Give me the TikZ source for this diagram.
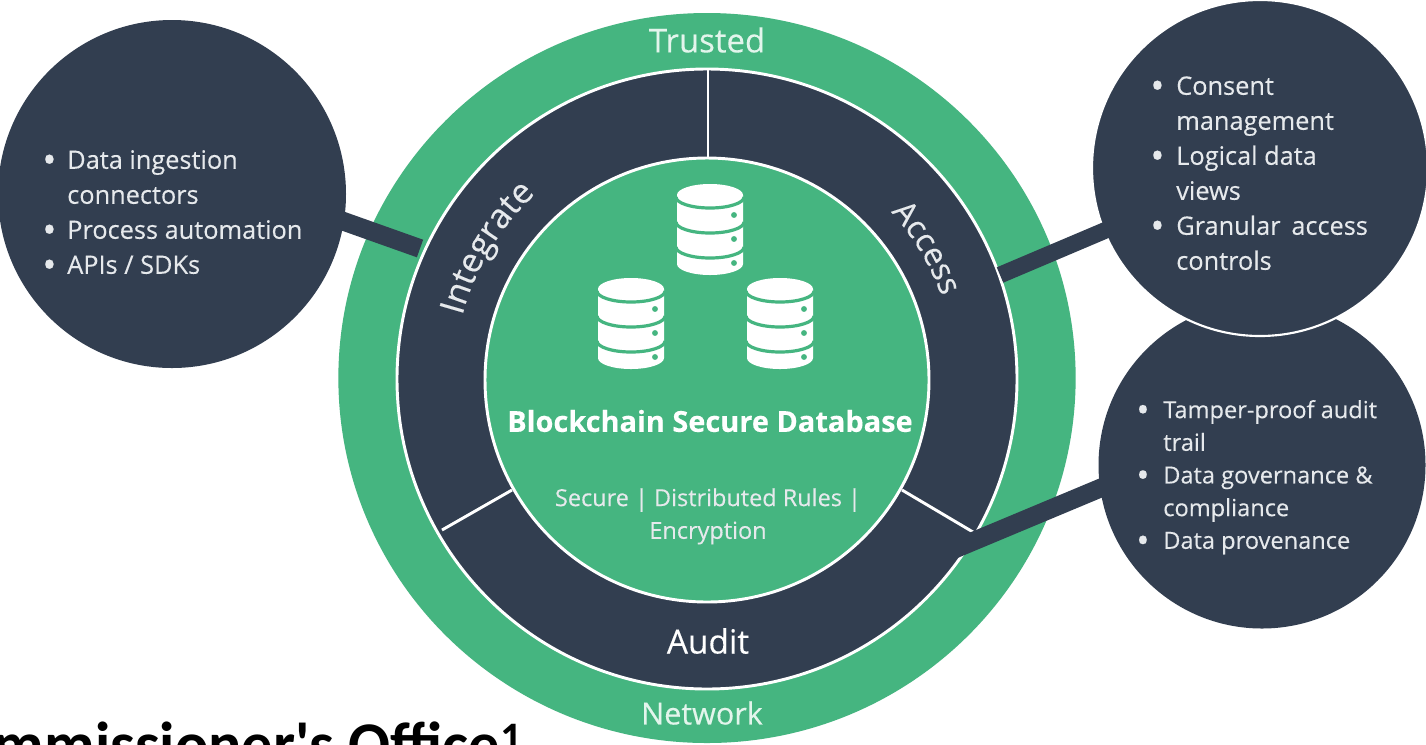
\documentclass[tikz,border=0pt]{standalone}
\usepackage{fontspec}
\setmainfont{Open Sans}[FakeBold=0.25]
\newfontfamily\carl{Carlito}
\usetikzlibrary{decorations.text}
\definecolor{rgreen}{HTML}{45B580}
\definecolor{rdark}{HTML}{323E50}
\definecolor{rtext}{HTML}{E6E9EC}
\definecolor{rmint}{HTML}{E3F5EC}
\newcommand{\bl}{\raisebox{-0.17em}{\scalebox{1.5}{\textbullet}}}
\tikzset{
  x=0.75pt,y=-0.75pt,
  sat/.style={circle,fill=rdark,inner sep=0pt,minimum size=#1*0.75pt},
  bar/.style={rdark,line width=#1pt},
  listA/.style={anchor=north west,inner sep=0pt,text=rtext,font=\fontsize{19}{26.25}\selectfont},
  listB/.style={anchor=north west,inner sep=0pt,text=rtext,font=\fontsize{17.7}{24.5}\selectfont},
  lab/.style={text=rmint,inner sep=0pt,font=\fontsize{#1}{30}\selectfont},
  sublab/.style={text=rtext,inner sep=0pt,font=\fontsize{17.6}{25}\selectfont},
  dbicon/.pic={
    \fill[white] (-33,11) arc[x radius=24.75pt,y radius=8.25pt,start angle=180,end angle=0]
      -- (33,80) arc[x radius=24.75pt,y radius=8.25pt,start angle=0,end angle=-180] -- cycle;
    \foreach \yy in {13,38,63}{
      \draw[rgreen,line width=2.4pt] (-34,\yy) arc[x radius=25.5pt,y radius=8.25pt,start angle=180,end angle=360];
    }
    \foreach \yy in {31,55,79}{ \fill[rgreen] (24,\yy) circle[radius=2.2pt]; }
  }
}
\begin{document}
\begin{tikzpicture}
\path[use as bounding box] (0,0) rectangle (1426,744);
\clip (0,0) rectangle (1426,744);
\fill[white] (0,0) rectangle (1426,744);

% outer ring and inner rings
\node[sat=730,fill=rgreen,xscale=1.01] (outer) at (707,378) {};
\node[sat=620,draw=white,line width=2.2pt] (ring) at (707,379) {};
\node[sat=444,fill=rgreen,draw=white,line width=2.2pt] (core) at (707,380) {};

% ring dividers
\coordinate (d1a) at (708,70);
\coordinate (d1b) at (708,158);
\coordinate (d2a) at (902,490);
\coordinate (d2b) at (973,532);
\coordinate (d3a) at (512,490);
\coordinate (d3b) at (442,530);
\draw[white,line width=2.2pt] (d1a) -- (d1b);
\draw[white,line width=2.2pt] (d2a) -- (d2b);
\draw[white,line width=2.2pt] (d3a) -- (d3b);

% satellites
\node[sat=348] (s1) at (172,194) {};
\node[sat=327] (s3) at (1262,465) {};
\node[sat=336,draw=white,line width=1.6pt] (s2) at (1260,168) {};

% connectors
\coordinate (c1) at (420,248.5);
\coordinate (c1s) at (292,203);
\coordinate (c2) at (1000,275);
\coordinate (c2s) at (1125,222);
\coordinate (c3) at (950,551);
\coordinate (c3s) at (1115,482);
\draw[bar=14] (c1s) -- (c1);
\draw[bar=12.5] (c2s) -- (c2);
\draw[bar=14] (c3s) -- (c3);

% database icons
\pic at (710,184) {dbicon};
\pic at (631,278) {dbicon};
\pic at (780,278) {dbicon};

% labels
\node[lab=24.7] (trusted) at (707,40) {Trusted};
\node[lab=22.9] (network) at (702,713) {Network};
\node[lab=25,text=white] (audit) at (708,641) {Audit};
\node[text=white,inner sep=0pt,font=\bfseries\fontsize{21.7}{26}\selectfont] (title) at (710,421) {Blockchain Secure Database};
\node[sublab] (sub1) at (708,500) {Secure | Distributed Rules |};
\node[sublab] (sub2) at (708,533) {Encryption};

\path[decorate,decoration={text along path,text align=center,
  text={|\color{rtext}\fontsize{25.5}{28}\selectfont|Integrate}}]
  plot[domain=181:117,samples=40] ({707+253*cos(\x)},{380-253*sin(\x)});
\path[decorate,decoration={text along path,text align=center,
  text={|\color{rtext}\fontsize{24}{28}\selectfont|Access}}]
  plot[domain=60:2,samples=40] ({707+249*cos(\x)},{380-249*sin(\x)});

% lists
\node[listA] (l1) at (42,144) {\begin{tabular}{@{}p{18.75pt}@{}l@{}}
\bl & Data ingestion\\ & connectors\\ \bl & Process automation\\ \bl & APIs / SDKs\end{tabular}};
\node[listA] (l2) at (1150,70) {\begin{tabular}{@{}p{19.5pt}@{}l@{}}
\bl & Consent\\ & management\\ \bl & Logical data\\ & views\\ \bl & Granular\, access\\ & controls\end{tabular}};
\node[listB] (l3) at (1136,395) {\begin{tabular}{@{}p{20.25pt}@{}l@{}}
\bl & Tamper-proof audit\\ & trail\\ \bl & Data governance \&\\ & compliance\\ \bl & Data provenance\end{tabular}};

% cut-off heading
\node[anchor=base east,inner sep=0pt,text=black,font=\carl\bfseries\fontsize{46.6}{50}\selectfont] (head) at (523,765) {mmissioner's Office\textsuperscript{1}};
\end{tikzpicture}
\end{document}
